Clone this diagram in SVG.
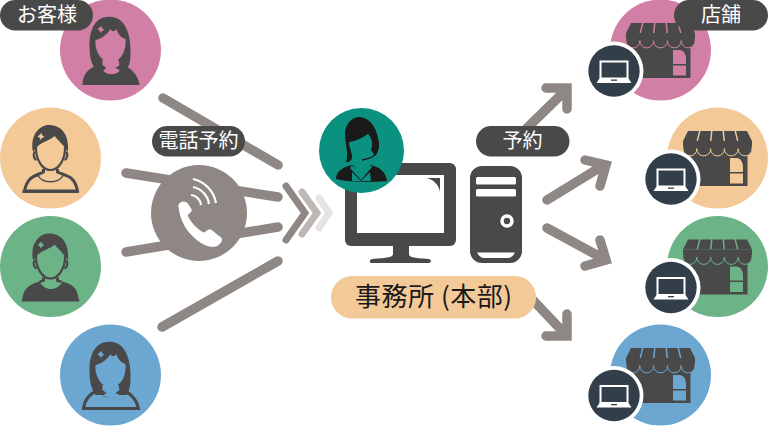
<svg xmlns="http://www.w3.org/2000/svg" xmlns:xlink="http://www.w3.org/1999/xlink" width="768" height="427" viewBox="0 0 768 427">
<style>
.dk{fill:#4a4949}
.cc{fill:currentColor}
.pill{fill:#4a4949}
.lbl{font-family:"Noto Sans CJK JP","Noto Sans",sans-serif;font-size:20px;fill:#fff;text-anchor:middle}
.ln{fill:none;stroke:#8f8784;stroke-width:9.500;stroke-linecap:round}
.pink{color:#d27fa6}.peach{color:#f3c998}.green{color:#6cb388}.blue{color:#6ba7d1}
</style>
<defs>
<g id="womanHead">
<path class="dk" d="M-3,-33C12,-35 20,-20 20,0C20,8 20,14 16,20L-15,20C-20,12 -21,5 -21,-5C-21,-22 -14,-33 -3,-33Z"/>
<path class="cc" d="M-15,-10C-9,-11 -3,-16 0,-21C1,-18 4,-18 6,-21C7,-16 11,-12 15,-11C16,0 11,12 0,12C-10,12 -16,0 -15,-10Z"/>
<path class="cc" d="M-11.500,-22L-9,-24L-8,-21.500L-6,-20L-8.500,-19L-10,-17L-11,-19.500L-13,-20.500Z"/>
</g>
<g id="womanA">
<use xlink:href="#womanHead"/>
<path class="dk" d="M-28,35C-28,26 -24,18 -10,14C-8,17 -8,20 -6,22C-2,25 4,25 8,22C10,19 10,17 10,14C22,18 28,26 29,35Z"/>
<path class="cc" d="M-8,10L8,10L9,15L5,18L9,20C4,24 -3,24 -7,20L-4,18L-8,15Z"/>
</g>
<g id="womanB">
<path class="cc" stroke="#4a4949" stroke-width="3" d="M-27,33.500C-26,25 -22,19 -10,14C-6,24 6,24 10,14C22,19 26,25 28,33.500Z"/>
<use xlink:href="#womanHead"/>
<path class="cc" d="M-8,10L8,10L9,15L5,18L9,20C4,24 -3,24 -7,20L-4,18L-8,15Z"/>
</g>
<g id="manHead">
<path class="dk" d="M-17.500,-6C-21,-24 -10,-33 -2,-33C10,-33 19,-25 17.500,-6L14,-11C11,-15 7,-18 4,-22C-1,-17 -8,-17 -13.500,-11Z"/>
<path class="cc" d="M-11,-23L-9,-25L-8,-22.500L-6,-21L-8.500,-20L-10,-18L-11,-20.500L-13,-21.500Z"/>
<path d="M-14.500,-11C-15,0 -9,12 0,12C9,12 15,0 14.500,-11M-15,-6C-18,-6 -17,1 -14,2M15,-6C18,-6 17,1 14,2" fill="none" stroke="#4a4949" stroke-width="2.200"/>
</g>
<g id="manA">
<path d="M-7,11L-7,14C-14,18 -23,17 -26,33L27,33C24,17 15,18 7,14L7,11" class="cc" stroke="#4a4949" stroke-width="3"/>
<path d="M-13,17C-8,26 8,26 13,17" fill="none" stroke="#4a4949" stroke-width="1.500"/>
<path d="M-28,33.500L28,33.500" stroke="#4a4949" stroke-width="3"/>
<use xlink:href="#manHead"/>
</g>
<g id="manB">
<path class="dk" d="M-29,35L-27,27C-24,19 -17,17 -11,15C-6,25 7,25 12,15C18,17 25,19 27,27L29,35Z"/>
<path d="M-7,11L-7,14C-9,15 -10,15 -11,15M7,11L7,14C9,15 10,15 11,15" fill="none" stroke="#4a4949" stroke-width="3"/>
<use xlink:href="#manHead"/>
</g>
<g id="store">
<rect class="dk" x="-27" y="-12" width="57" height="40"/>
<path class="dk" d="M-29.500,-27H-18.500L-21,-17H-34.500ZM-17,-27H-6.500L-7.500,-17H-19.500ZM-5,-27H5L6,-17H-6ZM6.500,-27H17L19.500,-17H7.500ZM18.500,-27H29.500L34.500,-17H21Z"/>
<path class="dk" d="M-34.500,-17H34.500V-9H-34.500Z"/>
<path class="dk" stroke="currentColor" stroke-width="1" d="M-34.500,-11V-9A6.900,6.900 0 0 0 -20.700,-9V-11ZM-20.700,-11V-9A6.900,6.900 0 0 0 -6.900,-9V-11ZM-6.900,-11V-9A6.900,6.900 0 0 0 6.900,-9V-11ZM6.900,-11V-9A6.900,6.900 0 0 0 20.700,-9V-11ZM20.700,-11V-9A6.900,6.900 0 0 0 34.500,-9V-11Z"/>
<path class="dk" d="M-34,-13H34V-9.500H-34Z"/>
<path class="cc" d="M12.500,0H19C23,0 25.500,4 25.500,9V14H12.500ZM12.500,15.500H25.500V25.500H12.500Z"/>
</g>
<g id="laptop">
<circle r="29.500" fill="#fff"/>
<circle r="25.700" fill="#323f4a"/>
<rect x="-13.500" y="-9.500" width="27" height="17" fill="#323f4a" stroke="#fff" stroke-width="2"/>
<path d="M-14.500,7.500H14.500L17.500,12H-17.500Z" fill="#fff"/>
<rect x="-3" y="8.500" width="6" height="1.300" fill="#323f4a"/>
</g>
</defs>

<g id="connectors">
<path class="ln" d="M163,98L278,165M126,173L278,197M126,252L278,227M162,327L278,261"/>
<path fill="none" stroke="#8f8784" stroke-width="7" stroke-linecap="round" d="M286,186L305,213L286,240"/>
<path fill="none" stroke="#bdb8b5" stroke-width="7" stroke-linecap="round" d="M302,192L317,213L302,234"/>
<path fill="none" stroke="#e6e4e3" stroke-width="7" stroke-linecap="round" d="M319,198L329,213L319,228"/>
<path class="ln" d="M527,128L566,90M546,88L567,88L567,109"/>
<path class="ln" d="M547,200L604,165M585,160L606,165L600,186"/>
<path class="ln" d="M547,228L604,259M600,240L606,260L585,266"/>
<path class="ln" d="M530,297L566,335M567,314L567,336L546,336"/>
</g>

<g id="phone">
<circle cx="199" cy="213" r="48" fill="#8f8784"/>
<path d="M179,207C178,202 184,201 187,203L191,209C192,212 188,214 187,215C190,222 197,230 204,233C206,232 208,229 211,230L221,238C223,241 219,245 216,246C208,248 198,242 190,233C183,225 180,215 179,207Z" fill="#fff" stroke="#fff" stroke-width="1"/>
<path d="M191,195A11,11 0 0 1 201,205M193,187A20,20 0 0 1 209,204M193,179A30,30 0 0 1 216,203" fill="none" stroke="#fff" stroke-width="2.200"/>
</g>

<g id="customer1" class="pink"><circle cx="110.500" cy="50" r="50.500" class="cc"/><use xlink:href="#womanA" x="110.500" y="50"/></g>
<g id="customer2" class="peach"><circle cx="50.500" cy="158" r="50.500" class="cc"/><use xlink:href="#manA" x="50.500" y="158"/></g>
<g id="customer3" class="green"><circle cx="50.500" cy="266.500" r="50.500" class="cc"/><use xlink:href="#manB" x="50.500" y="266.500"/></g>
<g id="customer4" class="blue"><circle cx="110.500" cy="375" r="50.500" class="cc"/><use xlink:href="#womanB" x="110.500" y="375"/></g>

<g id="label-customers"><rect class="pill" x="0" y="0" width="93" height="30.500" rx="15.200"/><text class="lbl" x="47" y="22">お客様</text></g>
<g id="label-phone"><rect class="pill" x="152" y="126" width="93" height="30.500" rx="15.200"/><text class="lbl" x="198.500" y="148">電話予約</text></g>
<g id="label-reserve"><rect class="pill" x="476" y="126" width="93.500" height="30.500" rx="15.200"/><text class="lbl" x="522.500" y="148">予約</text></g>

<g id="monitor">
<rect x="345" y="163" width="111" height="83" rx="6" class="dk"/>
<rect x="357" y="175" width="87" height="58" fill="#fff"/>
<path class="dk" d="M427,178H440V192C439,185 434,180 427,178Z"/>
<path class="dk" d="M393,245H409V254C409,257 413,258 429,259C432,260 431,263 429,263H372C369,263 369,260 372,259C388,258 393,257 393,254Z"/>
</g>
<g id="tower">
<rect x="470" y="166" width="52" height="97" rx="12" class="dk"/>
<rect x="476" y="177" width="40" height="7.500" rx="1.500" fill="#fff"/>
<rect x="476" y="189" width="40" height="7.500" rx="1.500" fill="#fff"/>
<circle cx="507" cy="221" r="5" fill="none" stroke="#fff" stroke-width="3.500"/>
<path d="M477,252.500H515C514,255 511,258 508,258H484C481,258 478,255 477,252.500Z" fill="#fff"/>
</g>
<g id="operator">
<circle cx="361.500" cy="150.500" r="42.500" fill="#0b9180"/>
<path fill="#1a1a1a" d="M358,117C368,116 376,126 378,138C380,146 378,152 375,156L371,150C373,144 372,138 368,134C362,138 356,141 349,142C349,146 351,151 352,155C353,160 349,163 346,162C349,155 345,143 345,134C345,126 350,118 358,117Z"/>
<path fill="none" stroke="#1a1a1a" stroke-width="1.600" d="M378,146C378,154 374,158 362,160"/>
<rect x="374" y="140" width="5" height="9" rx="2.500" fill="#1a1a1a"/>
<path fill="#1a1a1a" d="M336,179C336,172 341,168 351,165L353,165L361,177L370,165C380,167 386,172 387,181C378,182 352,183 336,179Z"/>
<path fill="#0b9180" d="M352,165L361,175L370,165L372,167L361,180L350,168Z"/>
<path fill="#0b9180" d="M352,172L361,181L370,172L371,181L352,181Z"/>
</g>
<g id="office-label"><rect x="331" y="276" width="205" height="42.500" rx="21" fill="#f3c998"/><text x="355" y="306" font-family="'Noto Sans CJK JP','Noto Sans',sans-serif" font-size="26" fill="#1a1a1a" textLength="157" lengthAdjust="spacing">事務所 (本部)</text></g>

<g id="store1" class="pink"><circle cx="660.500" cy="50" r="50.500" class="cc"/><use xlink:href="#store" x="660.500" y="50"/><use xlink:href="#laptop" x="614" y="71"/></g>
<g id="store2" class="peach"><circle cx="717.500" cy="158" r="50.500" class="cc"/><use xlink:href="#store" x="717.500" y="158"/><use xlink:href="#laptop" x="671" y="179"/></g>
<g id="store3" class="green"><circle cx="717.500" cy="266.500" r="50.500" class="cc"/><use xlink:href="#store" x="717.500" y="266.500"/><use xlink:href="#laptop" x="671" y="287.500"/></g>
<g id="store4" class="blue"><circle cx="660.500" cy="375" r="50.500" class="cc"/><use xlink:href="#store" x="660.500" y="375"/><use xlink:href="#laptop" x="614" y="395.500"/></g>
<g id="label-stores"><rect class="pill" x="674" y="0" width="94" height="30.500" rx="15.200"/><text class="lbl" x="721" y="22">店舗</text></g>
</svg>
